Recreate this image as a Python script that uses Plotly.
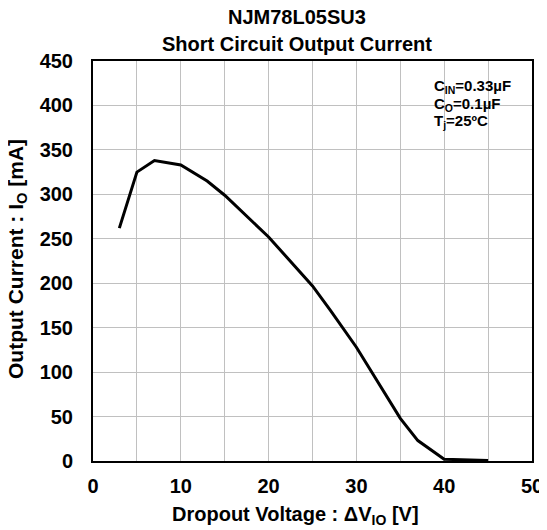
import plotly.graph_objects as go

# Data
dropout_voltage = [3, 5, 7, 10, 13, 15, 20, 25, 27, 30, 35, 37, 40, 45]
output_current = [262, 325, 338, 333, 315, 299, 252, 197, 170, 128, 48, 23, 2, 0.5]

x_ticks = [0, 10, 20, 30, 40, 50]
y_ticks = [0, 50, 100, 150, 200, 250, 300, 350, 400, 450]

title_lines = ["NJM78L05SU3", "Short Circuit Output Current"]
x_title = "Dropout Voltage : ΔV<sub>IO</sub> [V]"
y_title = "Output Current : I<sub>O</sub> [mA]"
conditions = ["C<sub>IN</sub>=0.33µF", "C<sub>O</sub>=0.1µF", "T<sub>j</sub>=25ºC"]

FONT = "Arial, Liberation Sans, sans-serif"
OFF = 8  # page body margin
W, H = 547 - OFF, 530 - OFF
# plot area in page pixels
L, R, T, B = 93, 532, 61, 461

def px_x(p):
    return (p - L) / (R - L)

def px_y(p):
    return (B - p) / (B - T)

fig = go.Figure()
fig.add_trace(go.Scatter(
    x=dropout_voltage, y=output_current, mode="lines",
    line=dict(color="black", width=3), showlegend=False,
))

axis_common = dict(
    showline=True, linecolor="black", linewidth=2, mirror=True,
    gridcolor="#c0c0c0", gridwidth=1, zeroline=False, automargin=False,
    tickfont=dict(family=FONT, size=20, color="black", weight="bold"),
    ticks="",
)

fig.update_layout(
    width=W, height=H,
    margin=dict(l=L - OFF, r=W - (R - OFF), t=T - OFF, b=H - (B - OFF)),
    plot_bgcolor="white", paper_bgcolor="white",
    xaxis=dict(range=[0, 50], tickvals=x_ticks, ticktext=[str(v) for v in x_ticks],
               minor=dict(dtick=5, showgrid=True, gridcolor="#c0c0c0", gridwidth=1),
               ticklabelstandoff=6, **axis_common),
    yaxis=dict(range=[0, 450], tickvals=y_ticks, ticktext=[str(v) for v in y_ticks],
               ticklabelstandoff=14, **axis_common),
    font=dict(family=FONT, color="black"),
)

annots = [
    dict(x=px_x(297), y=px_y(17), text=title_lines[0], size=20),
    dict(x=px_x(297), y=px_y(44), text=title_lines[1], size=20),
    dict(x=px_x(295), y=px_y(515), text=x_title, size=20),
    dict(x=px_x(17), y=px_y(259), text=y_title, textangle=-90, size=21),
]
for a in annots:
    size = a.pop("size")
    fig.add_annotation(xref="paper", yref="paper", showarrow=False,
                       xanchor="center", yanchor="middle",
                       font=dict(family=FONT, size=size, color="black", weight="bold"), **a)

for txt, py in zip(conditions, [87, 104, 121]):
    fig.add_annotation(xref="paper", yref="paper", showarrow=False,
                       x=px_x(432), y=px_y(py), xanchor="left", yanchor="middle",
                       text=txt,
                       font=dict(family=FONT, size=15, color="black", weight="bold"))

fig.write_html("out.html")
